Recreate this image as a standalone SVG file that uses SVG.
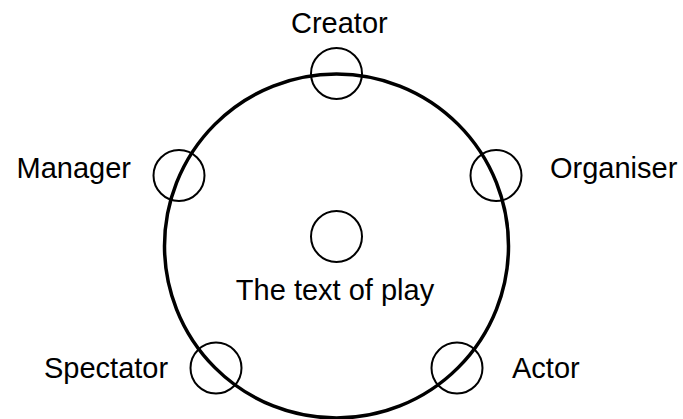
<svg xmlns="http://www.w3.org/2000/svg" width="683" height="419" viewBox="0 0 683 419">
<style>
.big{fill:none;stroke:#000;stroke-width:3.5}
.node{fill:none;stroke:#000;stroke-width:2}
text{font-family:"Liberation Sans",Arial,sans-serif;font-size:29px;fill:#000}
</style>
<rect width="683" height="419" fill="#fff"/>
<g id="stage"><circle class="big" cx="336.5" cy="246" r="172"/></g>
<g id="creator"><circle class="node" cx="336.5" cy="73.5" r="25.5"/><text x="291" y="33">Creator</text></g>
<g id="manager"><circle class="node" cx="179" cy="175.5" r="25.5"/><text x="131" y="178" text-anchor="end">Manager</text></g>
<g id="organiser"><circle class="node" cx="496" cy="175.5" r="25.5"/><text x="550" y="178">Organiser</text></g>
<g id="text"><circle class="node" cx="336.5" cy="236.5" r="25.5"/><text x="335" y="300" text-anchor="middle">The text of play</text></g>
<g id="spectator"><circle class="node" cx="216" cy="368" r="25.5"/><text x="44" y="378">Spectator</text></g>
<g id="actor"><circle class="node" cx="457" cy="368" r="25.5"/><text x="512" y="378">Actor</text></g>
<g id="connectors"></g>
</svg>
